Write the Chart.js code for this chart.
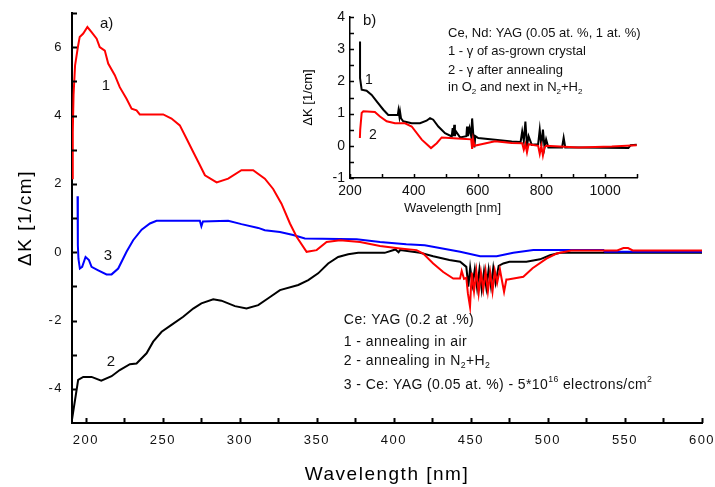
<!DOCTYPE html>
<html>
<head>
<meta charset="utf-8">
<script src="https://cdn.jsdelivr.net/npm/chart.js@4"></script>
<style>
html, body { margin: 0; padding: 0; background: #fff; }
#wrap { position: relative; width: 715px; height: 487px; }
#main { position: absolute; left: 0; top: 0; }
#inset { position: absolute; left: 290px; top: 0; }
</style>
</head>
<body>
<div id="wrap">
<canvas id="main" width="715" height="487"></canvas>
<canvas id="inset" width="360" height="225"></canvas>
</div>
<script>
var FONT = '"Liberation Sans", Arial, sans-serif';

// ---- main plot (a) ----
var mainXTicks = [200, 250, 300, 350, 400, 450, 500, 550, 600];
var mainXMinor = [225, 275, 325, 375, 425, 475, 525, 575];
var mainYTicks = [-4, -2, 0, 2, 4, 6];
var mainYMinor = [-3, -1, 1, 3, 5, 7];

// 1 - annealing in air
var airX = [191, 191.5, 192, 193, 195, 196, 198.3, 201, 203.7, 207, 209, 212.3, 214.5, 218.8, 222, 226.4, 229.7, 232.9, 235, 250.2,
  255.6, 261, 265.4, 269.7, 273, 277.3, 284.9, 292.4, 301, 308.6, 316.2, 321.6, 327, 332.5, 336.8, 343.3, 349.8, 356.3, 365, 378,
  391, 404, 414.7, 419, 425.5, 432, 438.5, 442.9, 444, 445.5, 447, 448, 449.4, 450.5, 452, 453.5, 455, 456.5, 458, 459.5,
  461, 462.5, 464, 465.5, 467, 468.8, 470, 471.5, 473, 474, 484, 490, 499, 505.6, 515, 545, 549, 552, 555, 600];
var airY = [2.16, 3.5, 4.6, 5.47, 6.05, 6.3, 6.4, 6.59, 6.44, 6.25, 6.0, 5.9, 5.52, 5.18, 4.83, 4.49, 4.2, 4.15, 4.03, 4.03,
  3.91, 3.71, 3.32, 2.93, 2.64, 2.25, 2.04, 2.15, 2.40, 2.40, 2.15, 1.85, 1.42, 0.84, 0.45, 0.01, 0.06, 0.30, 0.35, 0.30,
  0.18, 0.11, 0.06, -0.04, -0.33, -0.58, -0.77, -0.77, -0.55, -0.78, -0.75, -1.2, -1.6, -0.6, -1.15, -0.55, -1.2, -0.6, -1.1, -0.55,
  -1.15, -0.6, -1.15, -0.55, -0.9, -0.5, -0.8, -1.16, -0.8, -0.8, -0.72, -0.47, -0.19, -0.04, 0.05, 0.05, 0.12, 0.12, 0.05, 0.05];

// 2 - annealing in N2+H2
var nhX = [191, 195, 198.3, 203.7, 210, 216.7, 222, 228.6, 232.9, 239.4, 243.7, 249.2, 255.6, 263.2, 269.7, 275, 282.7, 288, 296.8, 304.3,
  311.9, 318.4, 326, 337.9, 344.4, 350.8, 357.3, 363.8, 370.3, 376.8, 394, 401, 403, 404, 417, 425.5, 436, 443, 447, 448.3,
  449.5, 451, 452.5, 454, 455.5, 457, 458.5, 460, 461.5, 463, 464.5, 466, 468, 471, 475, 486, 494.8, 501.3, 508, 600];
var nhY = [-4.9, -3.74, -3.65, -3.65, -3.76, -3.63, -3.45, -3.28, -3.26, -2.96, -2.62, -2.33, -2.13, -1.89, -1.65, -1.50, -1.38, -1.42, -1.58, -1.65,
  -1.55, -1.35, -1.11, -0.96, -0.82, -0.62, -0.33, -0.14, -0.06, -0.02, -0.02, 0.08, 0.0, 0.06, -0.02, -0.12, -0.23, -0.28, -0.43, -1.01,
  -0.45, -0.95, -0.5, -1.05, -0.5, -1.1, -0.55, -1.05, -0.5, -1.0, -0.45, -0.9, -0.4, -0.33, -0.28, -0.28, -0.21, -0.09, -0.02, -0.02];

// 3 - Ce:YAG (0.05 at.%) electron irradiated
var elX = [194.6, 194.8, 195.2, 196.1, 197.6, 199.8, 202, 203.7, 208, 213.4, 216.7, 221, 226.4, 230.7, 236.2, 241.6, 245.9, 274, 275, 276,
  292.4, 301, 311.9, 316.2, 326, 334.6, 342.2, 375.8, 391, 408, 420, 443, 456, 466.7, 477.5, 490.5, 508, 536, 537, 600];
var elY = [1.64, 0.2, -0.2, -0.48, -0.43, -0.14, -0.23, -0.43, -0.53, -0.65, -0.65, -0.48, 0.01, 0.35, 0.66, 0.84, 0.92, 0.92, 0.76, 0.9,
  0.92, 0.82, 0.71, 0.64, 0.59, 0.50, 0.40, 0.38, 0.30, 0.23, 0.20, 0.01, -0.12, -0.12, -0.02, 0.06, 0.06, 0.06, 0.01, 0.01];

// ---- inset (b) ----
var insXTicks = [200, 400, 600, 800, 1000];
var insXMinor = [300, 500, 700, 900, 1100];
var insYTicks = [-1, 0, 1, 2, 3, 4];
var insYMinor = [-0.5, 0.5, 1.5, 2.5, 3.5];

// 1 - as-grown
var grownX = [231.4, 231.5, 236.6, 252, 268, 283.7, 304.6, 320, 341, 350, 352, 355, 357, 360, 367, 393.5, 419.5, 440, 451, 461,
  477, 498, 519, 522, 524, 527, 529, 532, 545, 565, 567, 570, 575, 580, 583, 587, 590, 593, 602, 655,
  707, 735, 740, 745, 750, 755, 760, 770, 790, 795, 800, 805, 810, 815, 822, 865, 870, 875, 916, 1073, 1080, 1099];
var grownY = [3.24, 2.10, 1.74, 1.71, 1.58, 1.38, 1.12, 0.96, 0.96, 0.96, 1.1, 0.9, 1.05, 0.85, 0.76, 0.70, 0.70, 0.78, 0.86, 0.81,
  0.60, 0.39, 0.29, 0.55, 0.3, 0.65, 0.3, 0.45, 0.26, 0.3, 0.6, 0.3, 0.55, 0.3, 0.85, 0.3, -0.05, 0.3, 0.24, 0.19,
  0.13, 0.12, 0.45, 0.15, 0.75, 0.0, 0.3, 0.03, 0.05, 0.5, 0.0, 0.5, -0.05, 0.2, -0.05, -0.05, 0.25, -0.05, -0.05, -0.07, 0.02, 0.03];

// 2 - after annealing in O2, then N2+H2
var annX = [231, 232, 236.6, 241.8, 278, 294, 315, 341, 372.5, 393.5, 425, 454, 472, 487.5, 550, 580, 583, 586, 590, 655,
  707, 740, 745, 750, 755, 760, 790, 795, 800, 805, 810, 815, 916, 1021, 1099];
var annY = [0.24, 0.5, 1.02, 1.07, 1.05, 0.91, 0.76, 0.70, 0.70, 0.60, 0.19, -0.07, 0.08, 0.26, 0.22, 0.2, -0.1, 0.2, 0.0, 0.14,
  0.09, 0.08, -0.12, 0.05, -0.2, 0.05, 0.0, -0.25, 0.0, -0.3, -0.05, 0.0, -0.05, -0.02, 0.02];

function pts(xs, ys) {
  return xs.map(function (x, i) { return { x: x, y: ys[i] }; });
}

function line(xs, ys, color) {
  return { data: pts(xs, ys), borderColor: color, borderWidth: 2, pointRadius: 0, fill: false, tension: 0 };
}

// text with sub/superscripts, drawn at data coords
function drawRich(ctx, x, y, parts, size, align, spacing) {
  ctx.save();
  ctx.letterSpacing = (spacing || 0) + 'px';
  ctx.fillStyle = '#111';
  ctx.textAlign = 'left';
  ctx.textBaseline = 'middle';
  var widths = parts.map(function (p) {
    ctx.font = (p[1] ? size * 0.62 : size) + 'px ' + FONT;
    return ctx.measureText(p[0]).width;
  });
  var total = widths.reduce(function (a, b) { return a + b; }, 0);
  var cx = align === 'center' ? x - total / 2 : x;
  parts.forEach(function (p, i) {
    ctx.font = (p[1] ? size * 0.62 : size) + 'px ' + FONT;
    var dy = p[1] === 'sub' ? size * 0.3 : p[1] === 'sup' ? -size * 0.4 : 0;
    ctx.fillText(p[0], cx, y + dy);
    cx += widths[i];
  });
  ctx.restore();
}

var notes = {
  id: 'notes',
  afterDatasetsDraw: function (chart, args, opts) {
    var ctx = chart.ctx, sx = chart.scales.x, sy = chart.scales.y;
    (opts.items || []).forEach(function (n) {
      drawRich(ctx, sx.getPixelForValue(n.x), sy.getPixelForValue(n.y), n.parts, n.size, n.align, n.spacing);
    });
  }
};

var inwardTicks = {
  id: 'inwardTicks',
  afterDraw: function (chart, args, opts) {
    var ctx = chart.ctx, a = chart.chartArea, sx = chart.scales.x, sy = chart.scales.y;
    ctx.save();
    ctx.strokeStyle = '#000';
    ctx.lineWidth = opts.width;
    ctx.beginPath();
    opts.xs.forEach(function (v) {
      var px = Math.round(sx.getPixelForValue(v)) + 0.5;
      ctx.moveTo(px, a.bottom);
      ctx.lineTo(px, a.bottom - opts.len);
    });
    opts.ys.forEach(function (v) {
      var py = Math.round(sy.getPixelForValue(v)) + 0.5;
      ctx.moveTo(a.left, py);
      ctx.lineTo(a.left + opts.len, py);
    });
    ctx.stroke();
    ctx.restore();
  }
};

var spacing = {
  id: 'spacing',
  beforeDraw: function (chart, args, opts) { chart.ctx.letterSpacing = (opts.px || 0) + 'px'; }
};

function axis(min, max, ticks, fontSize, pad, fixed, horizontal, title) {
  return {
    type: 'linear', min: min, max: max,
    grid: { display: false, drawTicks: false },
    border: { display: true, color: '#000', width: fixed.border },
    afterBuildTicks: function (s) { s.ticks = ticks.map(function (v) { return { value: v }; }); },
    afterFit: function (s) {
      if (horizontal) { s.height = fixed.size; s.paddingLeft = 0; s.paddingRight = 0; }
      else { s.width = fixed.size; s.paddingTop = 0; s.paddingBottom = 0; }
    },
    ticks: { padding: pad, color: '#111', autoSkip: false, maxRotation: 0, font: { family: FONT, size: fontSize },
      callback: function (v) { return String(v); } },
    title: title
  };
}

new Chart(document.getElementById('main'), {
  type: 'line',
  data: { datasets: [line(airX, airY, '#ff0000'), line(elX, elY, '#0000ff'), line(nhX, nhY, '#000000')] },
  options: {
    responsive: false, animation: false, events: [],
    layout: { padding: { left: 0, right: 13, top: 13, bottom: 0 } },
    scales: {
      x: axis(191, 600, mainXTicks, 13, 10, { size: 64, border: 2 }, true,
        { display: true, text: 'Wavelength [nm]', color: '#000', font: { family: FONT, size: 19 }, padding: { top: 0, bottom: 1 } }),
      y: axis(-5, 7, mainYTicks, 13, 9, { size: 72, border: 2 }, false,
        { display: true, text: 'ΔK [1/cm]', color: '#000', font: { family: FONT, size: 19 }, padding: { top: 14, bottom: 0 } })
    },
    plugins: {
      legend: { display: false }, tooltip: { enabled: false },
      spacing: { px: 1.5 },
      inwardTicks: { len: 5, width: 2, xs: mainXTicks.concat(mainXMinor), ys: mainYTicks.concat(mainYMinor) },
      notes: { items: [
        { x: 209.1, y: 6.69, size: 15, parts: [['a)']] },
        { x: 213, y: 4.86, size: 15, align: 'center', parts: [['1']] },
        { x: 214.3, y: -0.11, size: 15, align: 'center', parts: [['3']] },
        { x: 216.2, y: -3.2, size: 15, align: 'center', parts: [['2']] },
        { x: 367.5, y: -1.98, size: 14, spacing: 0.4, parts: [['Ce: YAG (0.2 at .%)']] },
        { x: 367.5, y: -2.63, size: 14, spacing: 0.4, parts: [['1 - annealing in air']] },
        { x: 367.5, y: -3.2, size: 14, spacing: 0.4, parts: [['2 - annealing in N'], ['2', 'sub'], ['+H'], ['2', 'sub']] },
        { x: 367.5, y: -3.89, size: 14, spacing: 0.4, parts: [['3 - Ce: YAG (0.05 at. %) - 5*10'], ['16', 'sup'], [' electrons/cm'], ['2', 'sup']] }
      ] }
    }
  },
  plugins: [spacing, inwardTicks, notes]
});

new Chart(document.getElementById('inset'), {
  type: 'line',
  data: { datasets: [line(annX, annY, '#ff0000'), line(grownX, grownY, '#000000')] },
  options: {
    responsive: false, animation: false, events: [],
    layout: { padding: { left: 0, right: 13, top: 17, bottom: 0 } },
    scales: {
      x: axis(200, 1100, insXTicks, 14, 5, { size: 47, border: 1.5 }, true, { display: false }),
      y: axis(-1, 4, insYTicks, 14, 5, { size: 60, border: 1.5 }, false,
        { display: true, text: 'ΔK [1/cm]', color: '#000', font: { family: FONT, size: 13 }, padding: { top: 11, bottom: 0 } })
    },
    plugins: {
      legend: { display: false }, tooltip: { enabled: false },
      inwardTicks: { len: 4, width: 1.5, xs: insXTicks.concat(insXMinor), ys: insYTicks.concat(insYMinor) },
      notes: { items: [
        { x: 240.8, y: 3.875, size: 15, parts: [['b)']] },
        { x: 259.6, y: 2.04, size: 14, align: 'center', parts: [['1']] },
        { x: 272, y: 0.335, size: 14, align: 'center', parts: [['2']] },
        { x: 507.3, y: 3.48, size: 13, parts: [['Ce, Nd: YAG (0.05 at. %, 1 at. %)']] },
        { x: 507.3, y: 2.92, size: 13, parts: [['1 - γ of as-grown crystal']] },
        { x: 507.3, y: 2.35, size: 13, parts: [['2 - γ after annealing']] },
        { x: 507.3, y: 1.80, size: 13, parts: [['in O'], ['2', 'sub'], [' and next in N'], ['2', 'sub'], ['+H'], ['2', 'sub']] },
        { x: 521.4, y: -1.96, size: 13, align: 'center', parts: [['Wavelength [nm]']] }
      ] }
    }
  },
  plugins: [inwardTicks, notes]
});
</script>
</body>
</html>
